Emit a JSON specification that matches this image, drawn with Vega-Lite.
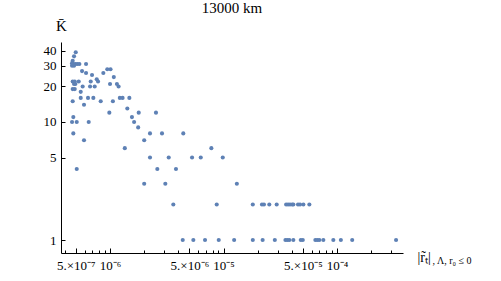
{
  "$schema": "https://vega.github.io/schema/vega-lite/v6.json",
  "width": 342,
  "height": 211,
  "autosize": "none",
  "padding": {"left": 61, "top": 42, "right": 98, "bottom": 28},
  "background": "white",
  "title": {"text": "13000 km", "font": "Liberation Serif", "fontSize": 15, "fontWeight": "normal", "color": "black", "anchor": "middle", "offset": 2},
  "config": {
    "view": {"stroke": null},
    "axis": {"grid": false, "domainColor": "black", "domainWidth": 1, "tickColor": "black", "labelColor": "black", "labelFont": "Liberation Serif", "labelFontSize": 13, "titleFont": "Liberation Serif", "titleFontWeight": "normal", "titleColor": "black"}
  },
  "data": {"values": [
    {"x": 4.99e-7, "k": 39}, {"x": 4.82e-7, "k": 36}, {"x": 4.69e-7, "k": 33}, {"x": 4.63e-7, "k": 31.5},
    {"x": 4.75e-7, "k": 31}, {"x": 4.95e-7, "k": 31}, {"x": 5.15e-7, "k": 31}, {"x": 5.37e-7, "k": 31},
    {"x": 4.63e-7, "k": 30}, {"x": 4.82e-7, "k": 30}, {"x": 6.15e-7, "k": 31}, {"x": 5.67e-7, "k": 27},
    {"x": 6.15e-7, "k": 26}, {"x": 6.94e-7, "k": 25}, {"x": 7.64e-7, "k": 23}, {"x": 7.84e-7, "k": 22},
    {"x": 6.76e-7, "k": 22}, {"x": 8.73e-7, "k": 26}, {"x": 9.46e-7, "k": 28}, {"x": 1.01e-6, "k": 28},
    {"x": 1.08e-6, "k": 24}, {"x": 1.0e-6, "k": 21}, {"x": 1.15e-6, "k": 21}, {"x": 1.19e-6, "k": 20},
    {"x": 4.69e-7, "k": 22}, {"x": 4.89e-7, "k": 22}, {"x": 4.82e-7, "k": 21}, {"x": 4.95e-7, "k": 21},
    {"x": 5.30e-7, "k": 22}, {"x": 4.69e-7, "k": 19}, {"x": 4.89e-7, "k": 19}, {"x": 5.74e-7, "k": 20},
    {"x": 6.67e-7, "k": 20}, {"x": 7.33e-7, "k": 20}, {"x": 5.52e-7, "k": 18}, {"x": 5.52e-7, "k": 16},
    {"x": 6.40e-7, "k": 16}, {"x": 7.13e-7, "k": 16}, {"x": 4.69e-7, "k": 15}, {"x": 5.90e-7, "k": 14},
    {"x": 8.28e-7, "k": 15}, {"x": 1.06e-6, "k": 15}, {"x": 1.22e-6, "k": 16}, {"x": 1.29e-6, "k": 16},
    {"x": 1.48e-6, "k": 16}, {"x": 1.42e-6, "k": 13}, {"x": 9.86e-7, "k": 12}, {"x": 1.79e-6, "k": 12},
    {"x": 2.54e-6, "k": 12}, {"x": 4.75e-7, "k": 11}, {"x": 4.63e-7, "k": 10}, {"x": 5.09e-7, "k": 10},
    {"x": 6.49e-7, "k": 10}, {"x": 1.56e-6, "k": 11}, {"x": 1.63e-6, "k": 10}, {"x": 1.77e-6, "k": 9},
    {"x": 4.75e-7, "k": 8}, {"x": 5.90e-7, "k": 7}, {"x": 1.35e-6, "k": 6}, {"x": 2.25e-6, "k": 8},
    {"x": 2.87e-6, "k": 8}, {"x": 4.42e-6, "k": 8}, {"x": 2.0e-6, "k": 7}, {"x": 2.25e-6, "k": 5},
    {"x": 3.29e-6, "k": 5}, {"x": 5.28e-6, "k": 5}, {"x": 6.30e-6, "k": 5}, {"x": 9.84e-6, "k": 5},
    {"x": 7.81e-6, "k": 6}, {"x": 5.09e-7, "k": 4}, {"x": 2.61e-6, "k": 4}, {"x": 3.81e-6, "k": 4},
    {"x": 2.0e-6, "k": 3}, {"x": 3.07e-6, "k": 3}, {"x": 1.31e-5, "k": 3}, {"x": 3.61e-6, "k": 2},
    {"x": 8.71e-6, "k": 2},
    {"x": 1.81e-5, "k": 2}, {"x": 2.18e-5, "k": 2}, {"x": 2.27e-5, "k": 2}, {"x": 2.53e-5, "k": 2},
    {"x": 2.94e-5, "k": 2}, {"x": 3.56e-5, "k": 2}, {"x": 3.70e-5, "k": 2}, {"x": 3.85e-5, "k": 2},
    {"x": 4.02e-5, "k": 2}, {"x": 4.12e-5, "k": 2}, {"x": 4.53e-5, "k": 2}, {"x": 4.72e-5, "k": 2},
    {"x": 5.05e-5, "k": 2}, {"x": 5.70e-5, "k": 2},
    {"x": 4.37e-6, "k": 1}, {"x": 5.42e-6, "k": 1}, {"x": 6.87e-6, "k": 1}, {"x": 9.07e-6, "k": 1},
    {"x": 1.24e-5, "k": 1}, {"x": 1.81e-5, "k": 1}, {"x": 2.21e-5, "k": 1}, {"x": 2.83e-5, "k": 1},
    {"x": 3.51e-5, "k": 1}, {"x": 3.65e-5, "k": 1}, {"x": 3.80e-5, "k": 1}, {"x": 4.12e-5, "k": 1},
    {"x": 4.79e-5, "k": 1}, {"x": 4.99e-5, "k": 1}, {"x": 6.44e-5, "k": 1}, {"x": 6.70e-5, "k": 1},
    {"x": 6.98e-5, "k": 1}, {"x": 7.57e-5, "k": 1}, {"x": 9.27e-5, "k": 1}, {"x": 1.08e-4, "k": 1},
    {"x": 1.36e-4, "k": 1}, {"x": 3.31e-4, "k": 1}
  ]},
  "layer": [
    {
      "mark": {"type": "point", "filled": true, "size": 17, "color": "#5E81B5", "opacity": 1},
      "encoding": {
        "x": {"field": "x", "type": "quantitative",
          "scale": {"type": "log", "domain": [3.7e-7, 3.81e-4], "nice": false},
          "axis": {"orient": "bottom", "values": [5e-7, 1e-6, 5e-6, 1e-5, 5e-5, 1e-4], "tickSize": -5, "labelPadding": 11,
            "labelExpr": "datum.value < 7e-7 ? '5.×10⁻⁷' : datum.value < 2e-6 ? '10⁻⁶' : datum.value < 7e-6 ? '5.×10⁻⁶' : datum.value < 2e-5 ? '10⁻⁵' : datum.value < 7e-5 ? '5.×10⁻⁵' : '10⁻⁴'",
            "title": "|r̃ₜ|", "titleFontSize": 14, "titleX": 356, "titleY": 8, "titleAlign": "left", "titleBaseline": "alphabetic", "titleAngle": 0}
        },
        "y": {"field": "k", "type": "quantitative",
          "scale": {"type": "log", "domain": [0.776, 47.6], "nice": false, "zero": false},
          "axis": {"values": [1, 5, 10, 20, 30, 40], "tickSize": -4, "labelPadding": 9, "format": "d",
            "title": "K̄", "titleFontSize": 15, "titleAngle": 0, "titleX": 0, "titleY": -12, "titleAlign": "center", "titleBaseline": "alphabetic"}
        }
      }
    },
    {
      "mark": {"type": "point", "opacity": 0},
      "encoding": {
        "x": {"field": "x", "type": "quantitative",
          "scale": {"type": "log", "domain": [3.7e-7, 3.81e-4], "nice": false},
          "axis": {"orient": "bottom", "values": [4e-7, 6e-7, 7e-7, 8e-7, 9e-7, 2e-6, 3e-6, 4e-6, 6e-6, 7e-6, 8e-6, 9e-6, 2e-5, 3e-5, 4e-5, 6e-5, 7e-5, 8e-5, 9e-5, 2e-4, 3e-4],
            "tickSize": -3, "labels": false, "domain": false,
            "title": ", Λ, r₀ ≤ 0", "titleFontSize": 10, "titleX": 371, "titleY": 10, "titleAlign": "left", "titleBaseline": "alphabetic", "titleAngle": 0}
        }
      }
    }
  ],
  "resolve": {"axis": {"x": "independent"}}
}
